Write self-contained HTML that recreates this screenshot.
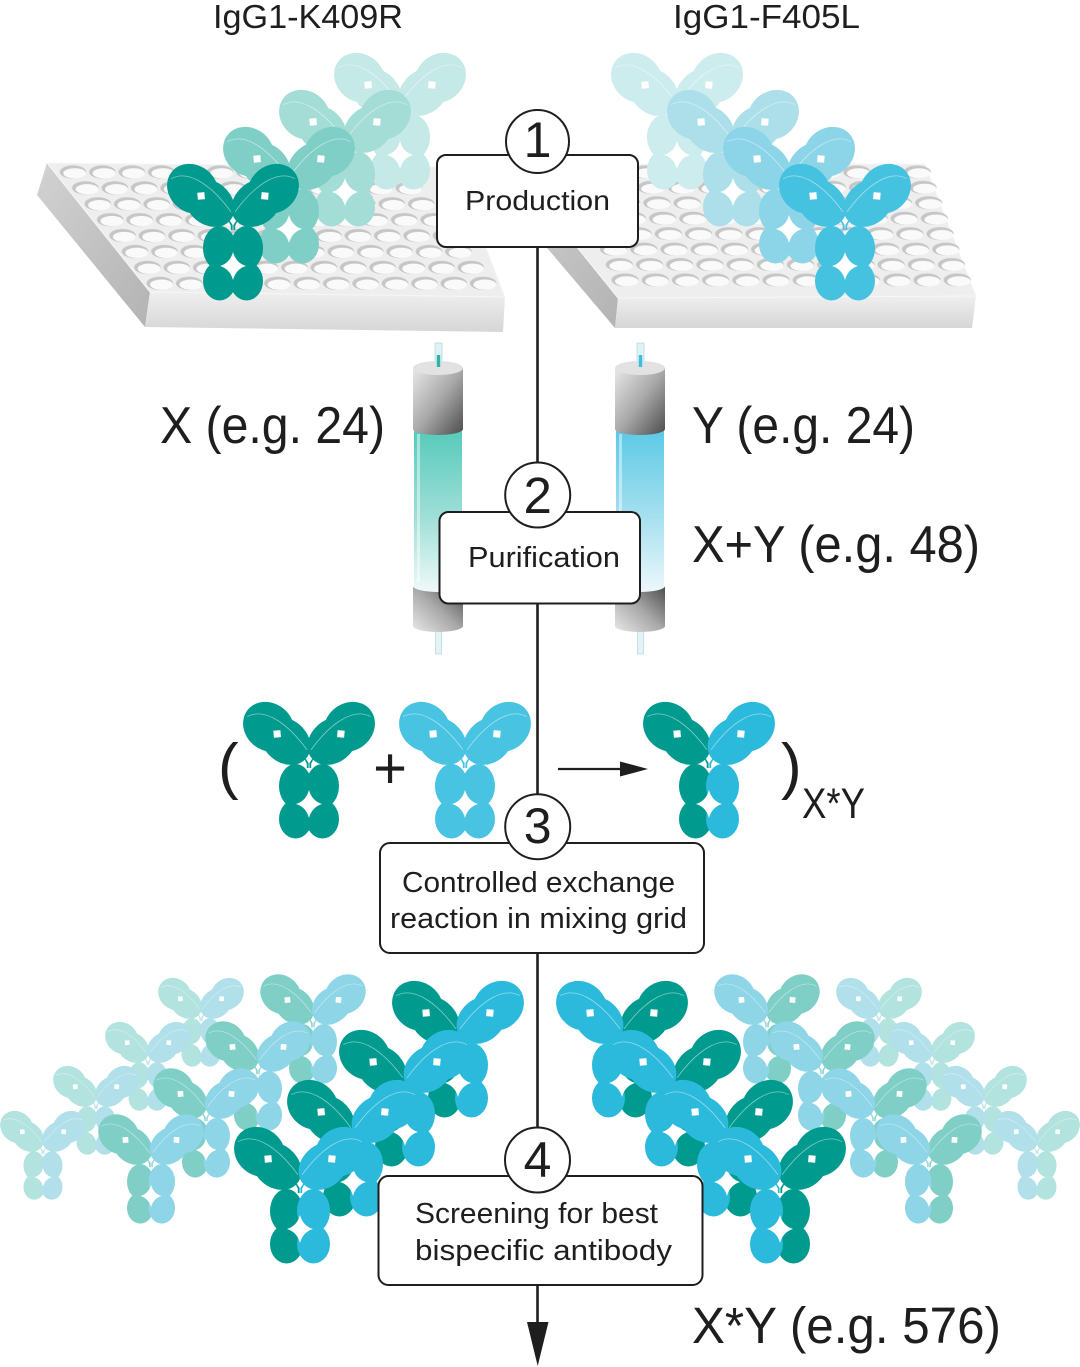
<!DOCTYPE html>
<html>
<head>
<meta charset="utf-8">
<style>
html,body{margin:0;padding:0;background:#fff;}
svg{display:block;}
text{font-family:"Liberation Sans",sans-serif;fill:#1e1e1e;}
</style>
</head>
<body>
<svg width="1080" height="1367" viewBox="0 0 1080 1367" xmlns="http://www.w3.org/2000/svg" xmlns:xlink="http://www.w3.org/1999/xlink">
<defs>
  <linearGradient id="capT" x1="0" y1="0" x2="1" y2="1">
    <stop offset="0" stop-color="#e8e8e8"/><stop offset="0.5" stop-color="#a9a9a9"/><stop offset="1" stop-color="#4c4c4c"/>
  </linearGradient>
  <linearGradient id="capB" x1="1" y1="0" x2="0" y2="1">
    <stop offset="0" stop-color="#4c4c4c"/><stop offset="0.5" stop-color="#a9a9a9"/><stop offset="1" stop-color="#e8e8e8"/>
  </linearGradient>
  <linearGradient id="liqL" x1="0" y1="0" x2="0" y2="1">
    <stop offset="0" stop-color="#52c9ba"/><stop offset="0.55" stop-color="#9fdfd7"/><stop offset="1" stop-color="#f0faf9"/>
  </linearGradient>
  <linearGradient id="liqR" x1="0" y1="0" x2="0" y2="1">
    <stop offset="0" stop-color="#58c8e5"/><stop offset="0.55" stop-color="#a6e0ef"/><stop offset="1" stop-color="#eef8fc"/>
  </linearGradient>
  <linearGradient id="frontG" x1="0" y1="0" x2="0" y2="1">
    <stop offset="0" stop-color="#efefef"/><stop offset="1" stop-color="#d6d6d6"/>
  </linearGradient>
  <linearGradient id="sideG" x1="0" y1="0" x2="1" y2="1">
    <stop offset="0" stop-color="#d2d2d2"/><stop offset="1" stop-color="#b3b3b3"/>
  </linearGradient>

  <pattern id="wL" patternUnits="userSpaceOnUse" width="29.4" height="15.9">
    <g transform="translate(14.7,7.95) skewX(-37.95)">
      <ellipse cx="0" cy="0" rx="13.3" ry="6.6" fill="#c6c6c6"/>
      <ellipse cx="1.7" cy="1.3" rx="11.4" ry="5.1" fill="#fafafa"/>
    </g>
  </pattern>
  <pattern id="wR" patternUnits="userSpaceOnUse" width="30.2" height="15.43">
    <g transform="translate(15.1,7.7) skewX(-20.3)">
      <ellipse cx="0" cy="0" rx="13.6" ry="6.5" fill="#c6c6c6"/>
      <ellipse cx="1.7" cy="1.3" rx="11.7" ry="5" fill="#fafafa"/>
    </g>
  </pattern>

  <g id="halfL">
    <g transform="translate(-2,0) rotate(220)">
      <ellipse cx="28" cy="0" rx="27" ry="21.5"/>
      <ellipse cx="50" cy="0" rx="27" ry="23.5"/>
      <path d="M39,-5 L44,0 L39,5 L34,0Z" fill="#fff"/>
      <path d="M73,-6 C65,14 34,14 6,7" fill="none" stroke="#fff" stroke-opacity="0.5" stroke-width="0.8"/>
    </g>
    <ellipse cx="-13.5" cy="27" rx="16.5" ry="22"/>
    <ellipse cx="-13.5" cy="60" rx="16.5" ry="19.5"/>
    <path d="M-4.5,0 L-3,0 L-0.4,4 L-0.4,9 L-2.2,9 L-2.2,4.8Z"/>
  </g>
  <g id="halfR">
    <g transform="translate(2,0) rotate(-40)">
      <ellipse cx="28" cy="0" rx="27" ry="21.5"/>
      <ellipse cx="50" cy="0" rx="27" ry="23.5"/>
      <path d="M39,-5 L44,0 L39,5 L34,0Z" fill="#fff"/>
      <path d="M73,6 C65,-14 34,-14 6,-7" fill="none" stroke="#fff" stroke-opacity="0.5" stroke-width="0.8"/>
    </g>
    <ellipse cx="13.5" cy="27" rx="16.5" ry="22"/>
    <ellipse cx="13.5" cy="60" rx="16.5" ry="19.5"/>
    <path d="M4.5,0 L3,0 L0.4,4 L0.4,9 L2.2,9 L2.2,4.8Z"/>
  </g>
  <path id="star" d="M0,31 Q3,42 13,45 Q3,48 0,59 Q-3,48 -13,45 Q-3,42 0,31Z" fill="#fff"/>
  <g id="ab"><use href="#halfL"/><use href="#halfR"/><use href="#star"/></g>

  <g id="botL">
    <!-- lightest row -->
    <g transform="translate(201,1015) scale(.65)"><use href="#halfL" fill="#b3e3df"/><use href="#halfR" fill="#b1e0ea"/><use href="#star"/></g>
    <g transform="translate(148,1059) scale(.65)"><use href="#halfL" fill="#b3e3df"/><use href="#halfR" fill="#b1e0ea"/><use href="#star"/></g>
    <g transform="translate(96,1103) scale(.65)"><use href="#halfL" fill="#b3e3df"/><use href="#halfR" fill="#b1e0ea"/><use href="#star"/></g>
    <g transform="translate(43,1148) scale(.65)"><use href="#halfL" fill="#b3e3df"/><use href="#halfR" fill="#b1e0ea"/><use href="#star"/></g>
    <!-- medium row -->
    <g transform="translate(313,1020) scale(.8)"><use href="#halfL" fill="#7fcfc7"/><use href="#halfR" fill="#8dd5e7"/><use href="#star"/></g>
    <g transform="translate(258,1067) scale(.8)"><use href="#halfL" fill="#7fcfc7"/><use href="#halfR" fill="#8dd5e7"/><use href="#star"/></g>
    <g transform="translate(206,1114) scale(.8)"><use href="#halfL" fill="#7fcfc7"/><use href="#halfR" fill="#8dd5e7"/><use href="#star"/></g>
    <g transform="translate(151,1160) scale(.8)"><use href="#halfL" fill="#7fcfc7"/><use href="#halfR" fill="#8dd5e7"/><use href="#star"/></g>
    <!-- dark row -->
    <g transform="translate(458,1038)"><use href="#halfL" fill="#009a8e"/><use href="#halfR" fill="#2bb9dc"/><use href="#star"/></g>
    <g transform="translate(405,1087)"><use href="#halfL" fill="#009a8e"/><use href="#halfR" fill="#2bb9dc"/><use href="#star"/></g>
    <g transform="translate(353,1137)"><use href="#halfL" fill="#009a8e"/><use href="#halfR" fill="#2bb9dc"/><use href="#star"/></g>
    <g transform="translate(300,1184)"><use href="#halfL" fill="#009a8e"/><use href="#halfR" fill="#2bb9dc"/><use href="#star"/></g>
  </g>
</defs>

<!-- Titles -->
<text x="213" y="28" font-size="33" textLength="190" lengthAdjust="spacingAndGlyphs">IgG1-K409R</text>
<text x="673" y="28" font-size="33" textLength="187" lengthAdjust="spacingAndGlyphs">IgG1-F405L</text>

<!-- Left plate -->
<polygon points="47,163 150,292 145,327 37,195" fill="url(#sideG)"/>
<polygon points="150,292 505,297 503,332 145,327" fill="url(#frontG)"/>
<polygon points="47,163 455,167 505,297 150,292" fill="#eeeeee" stroke="#f7f7f7" stroke-width="1"/>
<g transform="translate(52.1,164.05) skewX(37.95)"><rect x="0" y="0" width="352.8" height="127.2" fill="url(#wL)"/></g>

<!-- Right plate -->
<polygon points="510,164 618,298 615,328 503,196" fill="url(#sideG)"/>
<polygon points="618,298 976,296 972,328 615,328" fill="url(#frontG)"/>
<polygon points="510,164 925,164 976,296 618,298" fill="#eeeeee" stroke="#f7f7f7" stroke-width="1"/>
<g transform="translate(567.1,164.3) skewX(20.3)"><rect x="0" y="0" width="362.4" height="123.4" fill="url(#wR)"/></g>

<!-- Top-left antibodies -->
<use href="#ab" transform="translate(400,110)" fill="#c4e9e6"/>
<use href="#ab" transform="translate(345,147)" fill="#a4dcd6"/>
<use href="#ab" transform="translate(289,184)" fill="#7fcfc7"/>
<use href="#ab" transform="translate(233,221)" fill="#009a8e"/>

<!-- Top-right antibodies -->
<use href="#ab" transform="translate(677,110)" fill="#cdecee"/>
<use href="#ab" transform="translate(733,147)" fill="#acdfea"/>
<use href="#ab" transform="translate(789,184)" fill="#8cd4e7"/>
<use href="#ab" transform="translate(845,221)" fill="#45c2e0"/>

<!-- Columns -->
<g>
  <rect x="435" y="343" width="7" height="28" fill="#dff3f4" stroke="#a9cfd2" stroke-width="0.6"/>
  <rect x="435.5" y="626" width="6" height="28" fill="#e3f4f5" stroke="#a9cfd2" stroke-width="0.6"/>
  <rect x="414" y="425" width="48" height="168" fill="url(#liqL)"/>
  <rect x="417" y="434" width="3" height="148" fill="#fff" opacity="0.45"/>
  <path d="M413,368 V429 A25,6 0 0 0 463,429 V368 Z" fill="url(#capT)"/>
  <ellipse cx="438" cy="368" rx="25" ry="7" fill="#e2e2e2"/>
  <rect x="436.8" y="355" width="3.4" height="12" fill="#2fb5a8"/>
  <path d="M413,586 A25,6 0 0 0 463,586 V626 A25,6 0 0 1 413,626 Z" fill="url(#capB)"/>
</g>
<g>
  <rect x="637" y="343" width="7" height="28" fill="#dff3f6" stroke="#a9cfd8" stroke-width="0.6"/>
  <rect x="637.5" y="626" width="6" height="28" fill="#e3f4f8" stroke="#a9cfd8" stroke-width="0.6"/>
  <rect x="616" y="425" width="48" height="168" fill="url(#liqR)"/>
  <rect x="619" y="434" width="3" height="148" fill="#fff" opacity="0.45"/>
  <path d="M615,368 V429 A25,6 0 0 0 665,429 V368 Z" fill="url(#capT)"/>
  <ellipse cx="640" cy="368" rx="25" ry="7" fill="#e2e2e2"/>
  <rect x="638.8" y="355" width="3.4" height="12" fill="#3bbfe0"/>
  <path d="M615,586 A25,6 0 0 0 665,586 V626 A25,6 0 0 1 615,626 Z" fill="url(#capB)"/>
</g>

<!-- Side labels -->
<text x="160" y="443" font-size="52" textLength="225" lengthAdjust="spacingAndGlyphs">X (e.g. 24)</text>
<text x="692" y="443" font-size="52" textLength="223" lengthAdjust="spacingAndGlyphs">Y (e.g. 24)</text>
<text x="692" y="562" font-size="52" textLength="288" lengthAdjust="spacingAndGlyphs">X+Y (e.g. 48)</text>
<text x="692" y="1343" font-size="51" textLength="309" lengthAdjust="spacingAndGlyphs">X*Y (e.g. 576)</text>

<!-- Step 3 equation -->
<use href="#ab" transform="translate(309,759)" fill="#009a8e"/>
<use href="#ab" transform="translate(465,759)" fill="#48c3e1"/>
<g transform="translate(709,759)"><use href="#halfL" fill="#009a8e"/><use href="#halfR" fill="#2bb9dc"/><use href="#star"/></g>
<text x="218" y="787" font-size="62">(</text>
<text x="390" y="788" font-size="58" text-anchor="middle">+</text>
<text x="781" y="787" font-size="62">)</text>
<text x="802" y="818" font-size="43" textLength="63" lengthAdjust="spacingAndGlyphs">X*Y</text>
<line x1="558" y1="769" x2="624" y2="769" stroke="#1e1e1e" stroke-width="2.2"/>
<polygon points="620,761.5 648,769 620,776.5" fill="#1e1e1e"/>

<!-- Bottom clusters -->
<use href="#botL"/>
<use href="#botL" transform="matrix(-1,0,0,1,1080,0)"/>

<!-- Main flow line -->
<line x1="537.5" y1="240" x2="537.5" y2="1330" stroke="#1e1e1e" stroke-width="2.6"/>
<polygon points="527,1322 548.5,1322 537.7,1366" fill="#1e1e1e"/>

<!-- Box 1 -->
<rect x="437" y="155" width="201" height="92" rx="9" fill="#fff" stroke="#1e1e1e" stroke-width="2"/>
<circle cx="537.5" cy="141.5" r="31.5" fill="#fff" stroke="#1e1e1e" stroke-width="2"/>
<text x="537.5" y="157" font-size="50" text-anchor="middle">1</text>
<text x="465" y="210" font-size="28" textLength="145" lengthAdjust="spacingAndGlyphs">Production</text>

<!-- Box 2 -->
<rect x="439.5" y="512" width="200.5" height="91.5" rx="9" fill="#fff" stroke="#1e1e1e" stroke-width="2"/>
<circle cx="537.7" cy="495" r="32.5" fill="#fff" stroke="#1e1e1e" stroke-width="2"/>
<text x="537.7" y="513" font-size="51" text-anchor="middle">2</text>
<text x="468" y="567" font-size="29" textLength="152" lengthAdjust="spacingAndGlyphs">Purification</text>

<!-- Box 3 -->
<rect x="380" y="843" width="324" height="110" rx="10" fill="#fff" stroke="#1e1e1e" stroke-width="2"/>
<circle cx="537.7" cy="826.7" r="32.5" fill="#fff" stroke="#1e1e1e" stroke-width="2"/>
<text x="537.7" y="843" font-size="50" text-anchor="middle">3</text>
<text x="402" y="892" font-size="29" textLength="273" lengthAdjust="spacingAndGlyphs">Controlled exchange</text>
<text x="390" y="928" font-size="29" textLength="297" lengthAdjust="spacingAndGlyphs">reaction in mixing grid</text>

<!-- Box 4 -->
<rect x="378.5" y="1176" width="324" height="109" rx="10" fill="#fff" stroke="#1e1e1e" stroke-width="2"/>
<circle cx="537.5" cy="1160" r="32.5" fill="#fff" stroke="#1e1e1e" stroke-width="2"/>
<text x="537.5" y="1177" font-size="50" text-anchor="middle">4</text>
<text x="415" y="1223" font-size="29" textLength="243" lengthAdjust="spacingAndGlyphs">Screening for best</text>
<text x="415" y="1260" font-size="29" textLength="257" lengthAdjust="spacingAndGlyphs">bispecific antibody</text>
</svg>
</body>
</html>
